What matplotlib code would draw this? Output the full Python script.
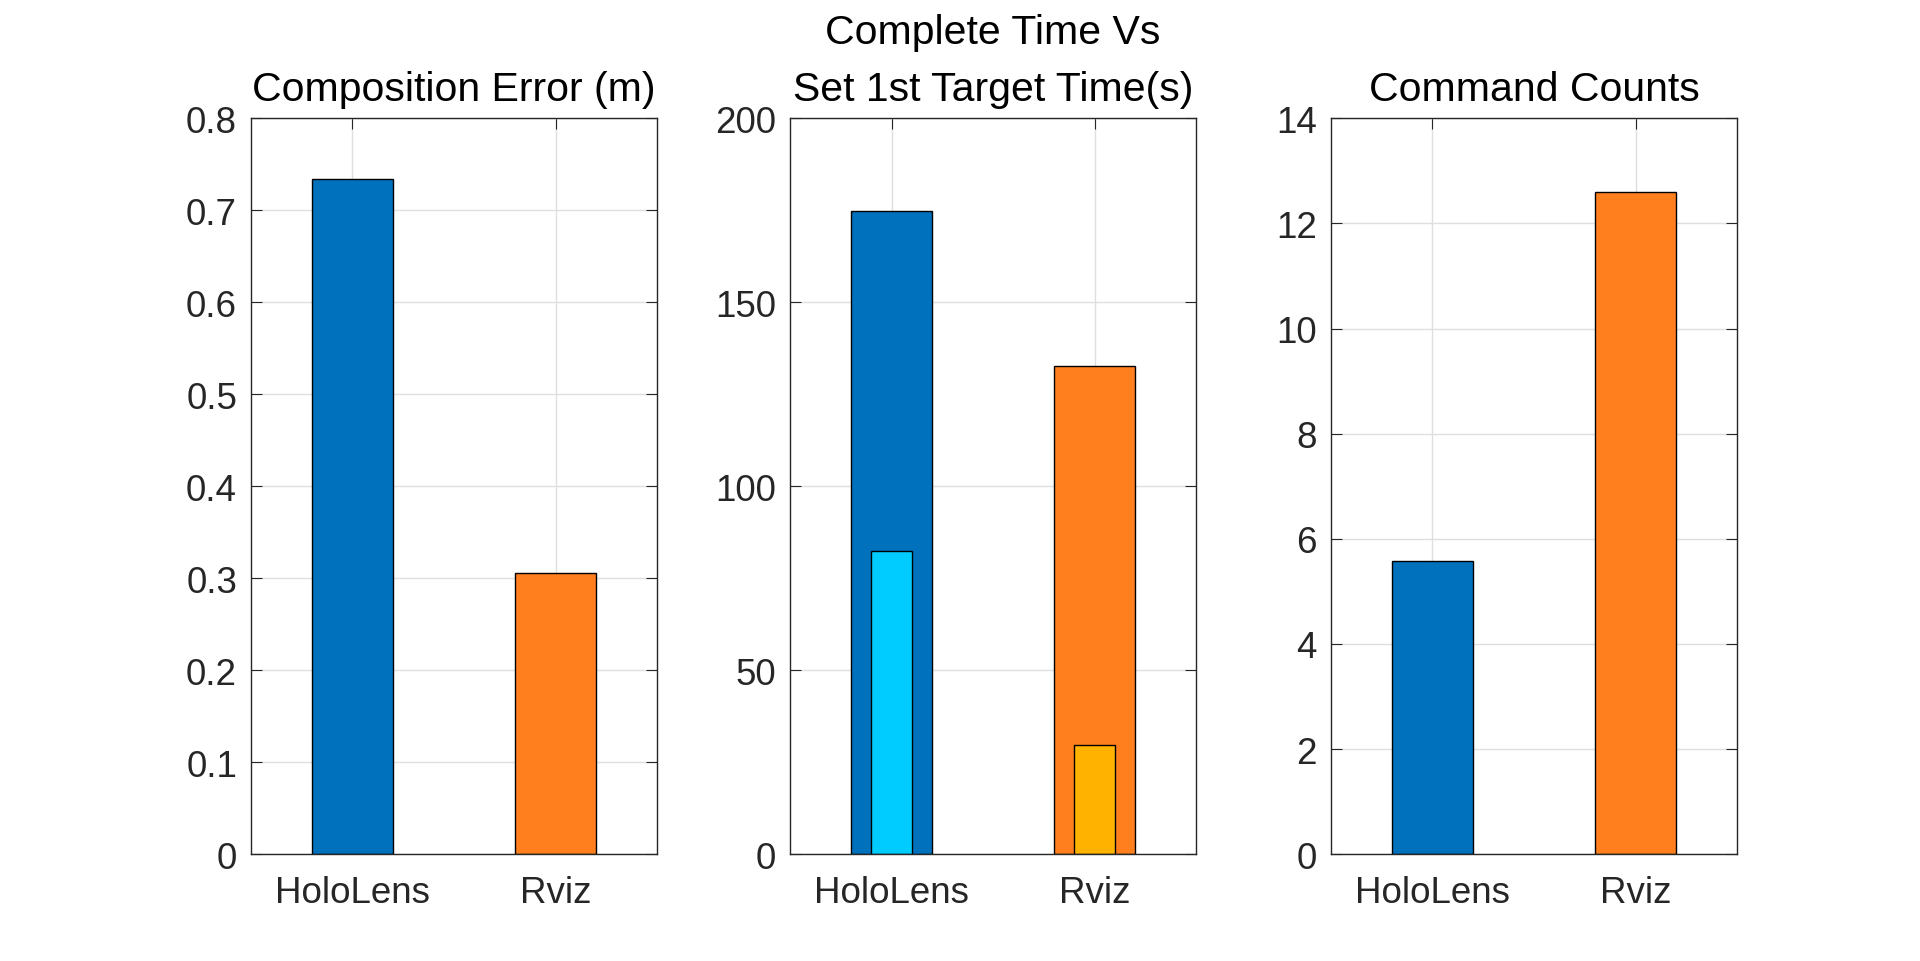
import matplotlib
matplotlib.use("Agg")
import matplotlib.pyplot as plt
import numpy as np

plt.rcParams['font.family'] = ['Liberation Sans', 'DejaVu Sans']

categories = ["HoloLens", "Rviz"]
comp_error = [0.734, 0.306]
complete_time = [174.8, 132.8]
first_target_time = [82.5, 29.6]
command_counts = [5.58, 12.6]

outer_colors = ["#0072BD", "#FF7F1F"]
inner_colors = ["#00CCFF", "#FFB300"]

titles = ["Composition Error (m)", "Complete Time Vs\nSet 1st Target Time(s)", "Command Counts"]
ylims = [(0, 0.8), (0, 200), (0, 14)]
yticks = [np.arange(0, 0.81, 0.1), np.arange(0, 201, 50), np.arange(0, 15, 2)]
yticklabels = [["0", "0.1", "0.2", "0.3", "0.4", "0.5", "0.6", "0.7", "0.8"],
               ["0", "50", "100", "150", "200"],
               ["0", "2", "4", "6", "8", "10", "12", "14"]]

fig = plt.figure(figsize=(19.2, 9.62), dpi=100)
lefts = [0.1307, 0.4115, 0.6932]
width = 0.2115
bottom = 0.111
height = 0.765

x = np.arange(1, len(categories) + 1)
FS = 26.5
TFS = 29.5

for i in range(3):
    ax = fig.add_axes([lefts[i], bottom, width, height])
    if i == 0:
        vals = comp_error
    elif i == 1:
        vals = complete_time
    else:
        vals = command_counts
    ax.bar(x, vals, width=0.4, color=outer_colors, edgecolor="black", linewidth=1.0, zorder=1)
    if i == 1:
        ax.bar(x, first_target_time, width=0.2, color=inner_colors, edgecolor="black", linewidth=1.0, zorder=2)
    ax.set_xlim(0.5, 2.5)
    ax.set_ylim(*ylims[i])
    ax.set_yticks(yticks[i])
    ax.set_yticklabels(yticklabels[i])
    ax.set_xticks(x)
    ax.set_xticklabels(categories)
    ax.set_axisbelow(True)
    ax.grid(True, color="#DFDFDF", linewidth=1.0)
    ax.tick_params(direction="in", length=8, width=0.8, top=True, right=True,
                   labelsize=FS, colors="#262626", pad=10)
    ax.tick_params(axis="x", pad=15)
    for s in ax.spines.values():
        s.set_color("#262626")
        s.set_linewidth(1.0)
    ax.set_title(titles[i], fontsize=TFS, color="black", pad=13.5, linespacing=1.63)

fig.savefig("out.png", dpi=100)
